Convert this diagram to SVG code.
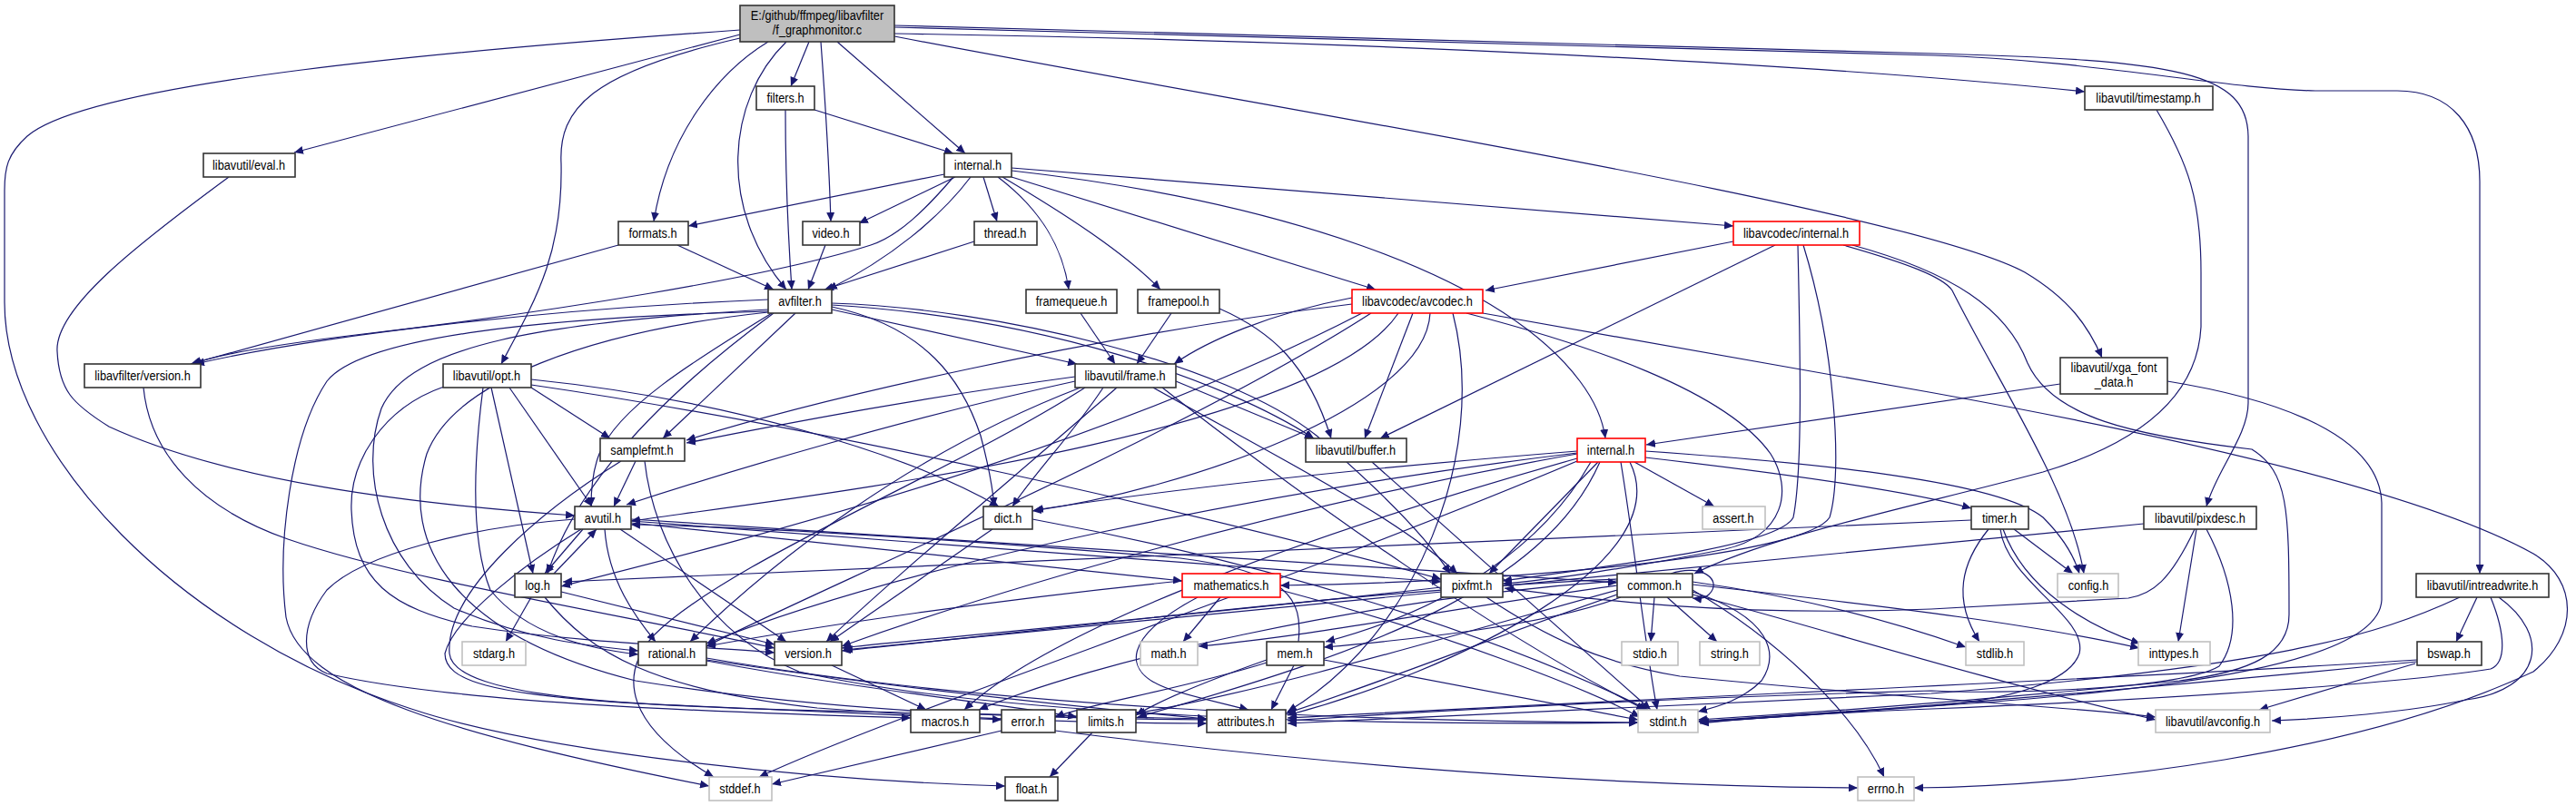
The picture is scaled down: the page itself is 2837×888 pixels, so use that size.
<svg xmlns="http://www.w3.org/2000/svg" width="2837" height="888" viewBox="0 0 2837 888">
<defs>
<marker id="a" markerWidth="11" markerHeight="9" refX="10" refY="4.5" orient="auto" markerUnits="userSpaceOnUse"><path d="M0,0 L10,4.5 L0,9 z" fill="#191970"/></marker>
<style>
rect{fill:#fff;stroke:#333;stroke-width:1.6}
.g rect{stroke:#c0c0c0}
.r rect{stroke:#ff0000}
.root rect{fill:#bfbfbf}
text{font-family:"Liberation Sans",Arial,sans-serif;font-size:15px;fill:#000;text-anchor:middle}
#edges path{fill:none;stroke:#191970;stroke-width:1.2;marker-end:url(#a)}
</style>
</defs>
<rect x="0" y="0" width="2837" height="888" style="fill:#fff;stroke:none"/>
<g id="edges">
<path d="M891,46 L871,95"/>
<path d="M904,46 C908,100 913,180 915,244"/>
<path d="M922,46 L1063,169"/>
<path d="M846,46 C790,80 735,150 720,244"/>
<path d="M866,46 C800,110 790,230 866,319"/>
<path d="M815,38 L324,168"/>
<path d="M815,42 C650,80 615,120 618,180 C620,280 590,330 552,401"/>
<path d="M815,33 C500,55 100,90 30,150 C8,170 5,185 5,210 L5,333 C5,500 200,700 453,781 C600,830 900,860 1107,866"/>
<path d="M985,37 C1500,45 2000,70 2296,101"/>
<path d="M985,40 C1400,120 2100,230 2230,300 C2280,330 2300,360 2315,394"/>
<path d="M985,28 L2130,59 C2400,66 2475,80 2476,150 L2476,444 C2476,480 2440,520 2430,558"/>
<path d="M985,30 L2130,61 C2300,66 2450,98 2550,100 L2640,100 C2700,100 2731,140 2731,200 L2731,632"/>
<path d="M897,121 L1050,169"/>
<path d="M865,121 C865,200 868,260 872,319"/>
<path d="M1040,192 L758,249"/>
<path d="M1052,195 L946,246"/>
<path d="M1083,195 L1098,244"/>
<path d="M1099,195 C1145,230 1170,270 1177,319"/>
<path d="M1104,195 C1180,240 1240,280 1278,319"/>
<path d="M1069,195 C1035,240 980,285 912,319"/>
<path d="M1050,195 C1020,230 990,260 959,270 C850,305 600,345 400,368 C300,380 240,390 212,401"/>
<path d="M1114,185 L1909,249"/>
<path d="M1114,195 L1515,319"/>
<path d="M1114,188 C1400,220 1650,300 1740,420 C1755,440 1765,460 1768,483"/>
<path d="M746,270 L852,319"/>
<path d="M681,270 L210,401"/>
<path d="M909,270 L890,319"/>
<path d="M1073,266 L908,319"/>
<path d="M1190,345 L1228,401"/>
<path d="M1290,345 L1252,401"/>
<path d="M1343,340 C1400,365 1440,400 1466,483"/>
<path d="M846,343 C600,350 400,370 360,420 C320,480 305,600 315,680 C330,760 500,810 781,866"/>
<path d="M846,344 C650,365 500,420 470,500 C440,600 500,700 700,750 C950,790 1200,792 1329,793"/>
<path d="M850,345 C760,400 680,450 660,500 C652,520 651,540 651,558"/>
<path d="M916,336 C1150,350 1350,420 1447,483"/>
<path d="M916,338 C1020,360 1060,420 1080,480 C1088,510 1093,535 1095,558"/>
<path d="M916,341 L1186,401"/>
<path d="M852,345 C750,420 640,520 603,632"/>
<path d="M876,345 L730,483"/>
<path d="M916,334 C1100,340 1350,400 1450,480 C1520,540 1570,590 1597,632"/>
<path d="M846,341 C600,355 450,380 420,450 C395,520 420,620 500,670 C580,705 650,712 703,717"/>
<path d="M846,330 C600,340 350,370 215,401"/>
<path d="M158,427 C165,500 220,560 317,594 C450,640 700,680 853,714"/>
<path d="M252,195 C150,270 60,340 63,387 C65,430 80,445 120,470 C250,530 450,555 633,568"/>
<path d="M532,427 C520,520 520,600 540,650 C580,700 650,715 703,721"/>
<path d="M561,427 L652,558"/>
<path d="M585,418 C800,440 1000,500 1100,558"/>
<path d="M541,427 L587,632"/>
<path d="M585,424 C900,470 1300,560 1587,638"/>
<path d="M585,427 L672,483"/>
<path d="M489,426 C420,450 385,510 387,562 C390,640 430,670 520,690 C650,710 780,712 853,719"/>
<path d="M1195,427 C1050,520 800,620 720,700 C680,745 690,800 786,856"/>
<path d="M1280,427 C1450,560 1650,700 1812,782"/>
<path d="M1184,420 C1000,460 800,520 690,556"/>
<path d="M1295,420 L1447,483"/>
<path d="M1215,427 C1180,480 1140,520 1115,558"/>
<path d="M1190,427 C1000,500 850,620 760,707"/>
<path d="M1184,415 C1000,440 850,470 756,488"/>
<path d="M1270,427 C1400,500 1540,570 1605,632"/>
<path d="M1230,427 C1100,540 980,640 910,707"/>
<path d="M1633,345 L2130,433 C2500,500 2700,560 2790,610 C2840,640 2840,700 2790,740 C2600,830 2300,866 2108,868"/>
<path d="M1489,335 C1200,370 900,440 756,485"/>
<path d="M1600,345 C1640,500 1560,700 1418,784"/>
<path d="M1556,345 L1503,483"/>
<path d="M1489,328 C1400,345 1330,375 1293,401"/>
<path d="M1500,345 C1200,500 800,600 618,646"/>
<path d="M1615,345 C1750,380 1900,430 1950,500 C1975,540 1965,590 1900,605 C1800,625 1700,640 1655,643"/>
<path d="M1510,345 C1300,480 900,650 778,712"/>
<path d="M1540,345 C1450,480 900,545 695,574"/>
<path d="M1575,345 C1570,450 1300,540 1137,563"/>
<path d="M1909,266 L1636,320"/>
<path d="M1955,270 L1520,483"/>
<path d="M1980,270 C1983,400 1985,520 1975,570 C1960,600 1800,620 1655,640"/>
<path d="M1986,270 C2020,380 2030,520 2015,570 C1990,610 1700,640 1410,645"/>
<path d="M2030,270 C2100,290 2140,305 2150,320 C2200,420 2280,540 2295,632"/>
<path d="M2040,270 C2150,300 2210,340 2233,400 C2260,460 2350,480 2480,495 C2520,520 2521,560 2521,677 C2521,720 2480,740 2400,750 C2200,770 2000,785 1870,793"/>
<path d="M2269,423 L1813,490"/>
<path d="M2387,420 C2480,435 2620,470 2623,554 L2623,661 C2620,730 2400,760 2127,778 C2000,786 1900,792 1871,795"/>
<path d="M2375,121 C2410,180 2424,220 2424,300 L2424,360 C2420,440 2350,490 2250,520 C2100,560 1950,590 1866,632"/>
<path d="M2419,583 L2399,707"/>
<path d="M2361,577 L929,716"/>
<path d="M2417,583 C2390,640 2370,655 2344,659 L2127,671 C1900,680 1750,660 1657,648"/>
<path d="M2430,583 C2460,640 2470,700 2444,734 C2400,760 2200,765 2127,761 C1800,770 1550,785 1418,794"/>
<path d="M2728,658 L2705,707"/>
<path d="M2752,658 C2810,700 2800,760 2716,771 C2650,785 2560,792 2502,794"/>
<path d="M2709,658 C2620,700 2500,735 2127,764 C1800,778 1550,790 1418,797"/>
<path d="M2743,658 C2760,700 2760,730 2743,737 C2650,752 2400,770 2127,781 C2000,786 1920,792 1872,797"/>
<path d="M2660,731 L2488,782"/>
<path d="M2662,727 C2400,745 1800,770 1418,791"/>
<path d="M2662,729 C2400,755 2100,780 1872,796"/>
<path d="M695,572 L1781,642"/>
<path d="M695,574 L1587,641"/>
<path d="M695,576 L1302,640"/>
<path d="M640,583 C580,620 500,680 490,720 C490,750 540,765 700,775 C900,785 1050,790 1103,793"/>
<path d="M666,583 C670,640 700,680 722,707"/>
<path d="M683,583 L866,707"/>
<path d="M633,572 C520,580 400,610 360,650 C330,690 330,730 360,742 C500,775 800,785 1003,791"/>
<path d="M642,583 L600,632"/>
<path d="M610,632 L657,583"/>
<path d="M585,658 L557,707"/>
<path d="M600,658 C650,720 720,760 900,780 C1100,795 1250,797 1329,797"/>
<path d="M618,652 L853,710"/>
<path d="M710,508 C720,600 780,700 880,740 C1100,790 1500,800 1804,796"/>
<path d="M700,508 L676,558"/>
<path d="M684,508 C600,560 490,650 495,720 C500,770 700,780 1000,785 C1150,788 1250,790 1329,792"/>
<path d="M1137,572 C1400,620 1650,700 1815,782"/>
<path d="M1093,583 L914,707"/>
<path d="M1511,509 L1818,782"/>
<path d="M1737,497 C1450,520 1250,545 1139,562"/>
<path d="M1800,509 L1888,558"/>
<path d="M1812,504 C1950,520 2100,540 2171,560"/>
<path d="M1812,497 C2000,510 2200,530 2250,570 C2275,595 2285,615 2290,632"/>
<path d="M1760,509 L1640,632"/>
<path d="M1752,509 C1700,600 1600,670 1460,707"/>
<path d="M1762,509 C1700,650 1500,720 1253,790"/>
<path d="M1785,509 C1800,600 1810,700 1825,782"/>
<path d="M1795,509 C1850,620 1600,740 1418,788"/>
<path d="M1737,505 C1400,600 1150,700 1062,782"/>
<path d="M1737,508 C1400,650 1000,780 836,856"/>
<path d="M1737,500 C1400,560 1100,650 927,712"/>
<path d="M1737,499 C1400,540 1000,620 778,709"/>
<path d="M1344,658 L1303,707"/>
<path d="M1302,640 C1100,660 900,690 778,712"/>
<path d="M1319,658 C1240,700 1230,740 1290,760 C1330,772 1360,778 1375,782"/>
<path d="M1410,650 C1600,700 1750,760 1806,790"/>
<path d="M1637,658 C1700,700 1760,730 1850,745 C2100,770 2300,780 2374,790"/>
<path d="M1587,647 C1300,680 1000,705 927,714"/>
<path d="M1840,632 C1875,620 1898,640 1882,655 C1878,659 1872,660 1864,659"/>
<path d="M1822,658 L1818,707"/>
<path d="M1836,658 L1891,707"/>
<path d="M1864,652 C1950,680 1960,720 1940,750 C1920,770 1895,778 1870,784"/>
<path d="M1864,650 C1950,700 2040,780 2075,856"/>
<path d="M1864,644 C2100,670 2250,690 2356,714"/>
<path d="M1864,641 C2000,660 2100,690 2165,713"/>
<path d="M1781,645 C1600,670 1450,700 1320,712"/>
<path d="M1781,650 C1600,700 1400,760 1251,786"/>
<path d="M1781,655 C1650,700 1500,760 1416,786"/>
<path d="M1781,640 C1500,660 1200,730 1078,782"/>
<path d="M1781,638 C1500,650 1200,690 927,717"/>
<path d="M1785,658 C1700,690 1550,705 1458,713"/>
<path d="M1864,655 C2000,690 2150,740 2374,793"/>
<path d="M1395,727 C1330,750 1280,770 1251,788"/>
<path d="M1458,727 L1804,793"/>
<path d="M1425,733 L1400,782"/>
<path d="M1395,730 C1300,760 1200,775 1162,790"/>
<path d="M1430,707 C1435,660 1420,630 1300,615 C1000,590 800,580 695,578"/>
<path d="M778,725 C1100,780 1500,795 1804,796"/>
<path d="M778,728 C950,760 1100,775 1186,790"/>
<path d="M778,727 C1000,760 1200,780 1329,792"/>
<path d="M916,733 L1020,782"/>
<path d="M1162,805 C1400,835 1700,865 2046,868"/>
<path d="M1103,805 L850,864"/>
<path d="M1203,807 L1156,856"/>
<path d="M2218,583 L2283,632"/>
<path d="M2206,583 C2230,650 2300,690 2357,709"/>
<path d="M2203,583 C2210,640 2300,680 2290,720 C2280,750 2220,770 2127,778 C2000,788 1920,792 1870,795"/>
<path d="M2190,583 C2160,620 2150,660 2180,707"/>
<path d="M2171,573 L620,641"/>
</g>
<g id="n-root" class="root"><rect x="815" y="6" width="170" height="40"/><text transform="translate(900,22) scale(0.85,1)">E:/github/ffmpeg/libavfilter</text><text transform="translate(900,38) scale(0.85,1)">/f_graphmonitor.c</text></g>
<g id="n-filters"><rect x="833" y="95" width="64" height="26"/><text transform="translate(865,113) scale(0.85,1)">filters.h</text></g>
<g id="n-timestamp"><rect x="2296" y="95" width="141" height="26"/><text transform="translate(2366,113) scale(0.85,1)">libavutil/timestamp.h</text></g>
<g id="n-eval"><rect x="224" y="169" width="101" height="26"/><text transform="translate(274,187) scale(0.85,1)">libavutil/eval.h</text></g>
<g id="n-internal"><rect x="1040" y="169" width="74" height="26"/><text transform="translate(1077,187) scale(0.85,1)">internal.h</text></g>
<g id="n-formats"><rect x="681" y="244" width="77" height="26"/><text transform="translate(719,262) scale(0.85,1)">formats.h</text></g>
<g id="n-video"><rect x="884" y="244" width="63" height="26"/><text transform="translate(915,262) scale(0.85,1)">video.h</text></g>
<g id="n-thread"><rect x="1073" y="244" width="69" height="26"/><text transform="translate(1107,262) scale(0.85,1)">thread.h</text></g>
<g id="n-lavc-internal" class="r"><rect x="1909" y="244" width="139" height="26"/><text transform="translate(1978,262) scale(0.85,1)">libavcodec/internal.h</text></g>
<g id="n-avfilter"><rect x="846" y="319" width="70" height="26"/><text transform="translate(881,337) scale(0.85,1)">avfilter.h</text></g>
<g id="n-framequeue"><rect x="1130" y="319" width="100" height="26"/><text transform="translate(1180,337) scale(0.85,1)">framequeue.h</text></g>
<g id="n-framepool"><rect x="1253" y="319" width="90" height="26"/><text transform="translate(1298,337) scale(0.85,1)">framepool.h</text></g>
<g id="n-avcodec" class="r"><rect x="1489" y="319" width="144" height="26"/><text transform="translate(1561,337) scale(0.85,1)">libavcodec/avcodec.h</text></g>
<g id="n-lavfi-version"><rect x="93" y="401" width="128" height="26"/><text transform="translate(157,419) scale(0.85,1)">libavfilter/version.h</text></g>
<g id="n-opt"><rect x="488" y="401" width="97" height="26"/><text transform="translate(536,419) scale(0.85,1)">libavutil/opt.h</text></g>
<g id="n-frame"><rect x="1184" y="401" width="111" height="26"/><text transform="translate(1239,419) scale(0.85,1)">libavutil/frame.h</text></g>
<g id="n-xga"><rect x="2269" y="394" width="118" height="40"/><text transform="translate(2328,410) scale(0.85,1)">libavutil/xga_font</text><text transform="translate(2328,426) scale(0.85,1)">_data.h</text></g>
<g id="n-samplefmt"><rect x="661" y="483" width="93" height="25"/><text transform="translate(707,501) scale(0.85,1)">samplefmt.h</text></g>
<g id="n-buffer"><rect x="1438" y="483" width="111" height="26"/><text transform="translate(1493,501) scale(0.85,1)">libavutil/buffer.h</text></g>
<g id="n-lavu-internal" class="r"><rect x="1737" y="483" width="75" height="26"/><text transform="translate(1774,501) scale(0.85,1)">internal.h</text></g>
<g id="n-avutil"><rect x="633" y="558" width="62" height="25"/><text transform="translate(664,576) scale(0.85,1)">avutil.h</text></g>
<g id="n-dict"><rect x="1083" y="558" width="54" height="25"/><text transform="translate(1110,576) scale(0.85,1)">dict.h</text></g>
<g id="n-assert" class="g"><rect x="1875" y="558" width="69" height="25"/><text transform="translate(1909,576) scale(0.85,1)">assert.h</text></g>
<g id="n-timer"><rect x="2171" y="558" width="63" height="25"/><text transform="translate(2202,576) scale(0.85,1)">timer.h</text></g>
<g id="n-pixdesc"><rect x="2361" y="558" width="124" height="25"/><text transform="translate(2423,576) scale(0.85,1)">libavutil/pixdesc.h</text></g>
<g id="n-log"><rect x="567" y="632" width="51" height="26"/><text transform="translate(592,650) scale(0.85,1)">log.h</text></g>
<g id="n-mathematics" class="r"><rect x="1302" y="632" width="108" height="26"/><text transform="translate(1356,650) scale(0.85,1)">mathematics.h</text></g>
<g id="n-pixfmt"><rect x="1587" y="632" width="68" height="26"/><text transform="translate(1621,650) scale(0.85,1)">pixfmt.h</text></g>
<g id="n-common"><rect x="1781" y="632" width="83" height="26"/><text transform="translate(1822,650) scale(0.85,1)">common.h</text></g>
<g id="n-config" class="g"><rect x="2266" y="632" width="67" height="26"/><text transform="translate(2300,650) scale(0.85,1)">config.h</text></g>
<g id="n-intreadwrite"><rect x="2661" y="632" width="146" height="26"/><text transform="translate(2734,650) scale(0.85,1)">libavutil/intreadwrite.h</text></g>
<g id="n-stdarg" class="g"><rect x="509" y="707" width="70" height="26"/><text transform="translate(544,725) scale(0.85,1)">stdarg.h</text></g>
<g id="n-rational"><rect x="703" y="707" width="75" height="26"/><text transform="translate(740,725) scale(0.85,1)">rational.h</text></g>
<g id="n-version"><rect x="853" y="707" width="74" height="26"/><text transform="translate(890,725) scale(0.85,1)">version.h</text></g>
<g id="n-math" class="g"><rect x="1256" y="707" width="63" height="26"/><text transform="translate(1287,725) scale(0.85,1)">math.h</text></g>
<g id="n-mem"><rect x="1395" y="707" width="63" height="26"/><text transform="translate(1426,725) scale(0.85,1)">mem.h</text></g>
<g id="n-stdio" class="g"><rect x="1786" y="707" width="62" height="26"/><text transform="translate(1817,725) scale(0.85,1)">stdio.h</text></g>
<g id="n-string" class="g"><rect x="1872" y="707" width="66" height="26"/><text transform="translate(1905,725) scale(0.85,1)">string.h</text></g>
<g id="n-stdlib" class="g"><rect x="2165" y="707" width="64" height="26"/><text transform="translate(2197,725) scale(0.85,1)">stdlib.h</text></g>
<g id="n-inttypes" class="g"><rect x="2355" y="707" width="79" height="26"/><text transform="translate(2394,725) scale(0.85,1)">inttypes.h</text></g>
<g id="n-bswap"><rect x="2662" y="707" width="71" height="26"/><text transform="translate(2697,725) scale(0.85,1)">bswap.h</text></g>
<g id="n-macros"><rect x="1003" y="782" width="76" height="25"/><text transform="translate(1041,800) scale(0.85,1)">macros.h</text></g>
<g id="n-error"><rect x="1103" y="782" width="59" height="25"/><text transform="translate(1132,800) scale(0.85,1)">error.h</text></g>
<g id="n-limits"><rect x="1186" y="782" width="65" height="25"/><text transform="translate(1218,800) scale(0.85,1)">limits.h</text></g>
<g id="n-attributes"><rect x="1329" y="782" width="87" height="25"/><text transform="translate(1372,800) scale(0.85,1)">attributes.h</text></g>
<g id="n-stdint" class="g"><rect x="1804" y="782" width="66" height="25"/><text transform="translate(1837,800) scale(0.85,1)">stdint.h</text></g>
<g id="n-avconfig" class="g"><rect x="2374" y="782" width="126" height="25"/><text transform="translate(2437,800) scale(0.85,1)">libavutil/avconfig.h</text></g>
<g id="n-stddef" class="g"><rect x="781" y="856" width="69" height="26"/><text transform="translate(815,874) scale(0.85,1)">stddef.h</text></g>
<g id="n-float"><rect x="1107" y="856" width="58" height="26"/><text transform="translate(1136,874) scale(0.85,1)">float.h</text></g>
<g id="n-errno" class="g"><rect x="2046" y="856" width="62" height="26"/><text transform="translate(2077,874) scale(0.85,1)">errno.h</text></g>
</svg>
